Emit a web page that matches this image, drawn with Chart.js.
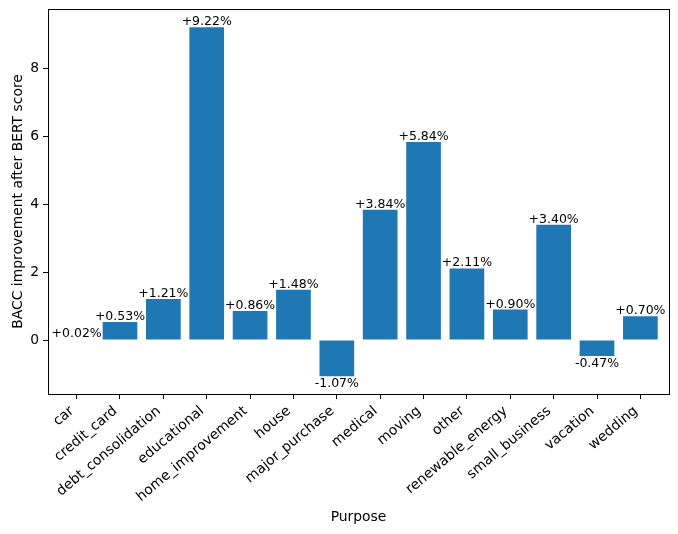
<!DOCTYPE html>
<html>
<head>
<meta charset="utf-8">
<script src="https://cdn.jsdelivr.net/npm/chart.js@4.4.1/dist/chart.umd.min.js"></script>
<style>
  html, body { margin: 0; padding: 0; background: #fff; }
  #wrap { width: 678px; height: 534px; }
</style>
</head>
<body>
<div id="wrap"><canvas id="chart" width="678" height="534"></canvas></div>
<script>
const purposes = ['car', 'credit_card', 'debt_consolidation', 'educational', 'home_improvement',
  'house', 'major_purchase', 'medical', 'moving', 'other', 'renewable_energy',
  'small_business', 'vacation', 'wedding'];
const improvement = [0.02, 0.53, 1.21, 9.22, 0.86, 1.48, -1.07, 3.84, 5.84, 2.11, 0.90, 3.40, -0.47, 0.70];
const yTicks = [0, 2, 4, 6, 8];

const FONT = 'DejaVu Sans';
const TICK_SIZE = 13.9;

// value labels above / below each bar
const barLabels = {
  id: 'barLabels',
  afterDatasetsDraw(chart) {
    const ctx = chart.ctx;
    const meta = chart.getDatasetMeta(0);
    ctx.save();
    ctx.font = '12.5px "' + FONT + '"';
    ctx.fillStyle = '#000';
    ctx.textAlign = 'center';
    meta.data.forEach((bar, i) => {
      const v = improvement[i];
      const txt = (v >= 0 ? '+' : '') + v.toFixed(2) + '%';
      ctx.textBaseline = v >= 0 ? 'bottom' : 'top';
      ctx.fillText(txt, bar.x, bar.y + 1);
    });
    ctx.restore();
  }
};

// rotated category labels, right aligned to the tick like matplotlib
const xLabels = {
  id: 'xLabels',
  afterDraw(chart) {
    const ctx = chart.ctx;
    const xs = chart.scales.x;
    const ang = 40 * Math.PI / 180;
    const asc = TICK_SIZE * 0.76, desc = TICK_SIZE * 0.24;
    const yTop = chart.chartArea.bottom + 5 + 4.9;
    ctx.save();
    ctx.font = TICK_SIZE + 'px "' + FONT + '"';
    ctx.fillStyle = '#000';
    ctx.textAlign = 'right';
    ctx.textBaseline = 'alphabetic';
    purposes.forEach((name, i) => {
      const x = xs.getPixelForValue(i);
      ctx.save();
      ctx.translate(x - desc * Math.sin(ang), yTop + asc * Math.cos(ang));
      ctx.rotate(-ang);
      ctx.fillText(name, 0, 0);
      ctx.restore();
    });
    ctx.restore();
  }
};

// axes frame like matplotlib spines
const frame = {
  id: 'frame',
  afterDraw(chart) {
    const a = chart.chartArea;
    const ctx = chart.ctx;
    ctx.save();
    ctx.strokeStyle = '#000';
    ctx.lineWidth = 1;
    ctx.strokeRect(Math.round(a.left) + 0.5, Math.round(a.top) + 0.5,
      Math.round(a.right - a.left), Math.round(a.bottom - a.top));
    ctx.restore();
  }
};

new Chart(document.getElementById('chart'), {
  type: 'bar',
  data: {
    datasets: [{
      data: improvement.map((v, i) => ({ x: i, y: v })),
      backgroundColor: '#1f77b4',
      borderWidth: 0,
      inflateAmount: 0,
      barPercentage: 0.8,
      categoryPercentage: 1.0
    }]
  },
  options: {
    responsive: false,
    animation: false,
    layout: { padding: { top: 9, right: 9, left: 0, bottom: 0 } },
    plugins: { legend: { display: false }, tooltip: { enabled: false } },
    scales: {
      x: {
        type: 'linear',
        min: -0.66,
        max: 13.66,
        offset: false,
        afterFit(s) { s.height = 140; s.paddingLeft = 0; s.paddingRight = 0; },
        afterBuildTicks(s) { s.ticks = purposes.map((_, i) => ({ value: i })); },
        ticks: {
          autoSkip: false,
          maxRotation: 0,
          color: 'rgba(0,0,0,0)',
          font: { family: FONT, size: 1 },
          callback: () => ''
        },
        grid: { offset: false, drawOnChartArea: false, drawTicks: true, tickLength: 5, color: '#000' },
        border: { display: false },
        title: {
          display: true,
          text: 'Purpose',
          color: '#000',
          font: { family: FONT, size: TICK_SIZE },
          padding: { top: 0, bottom: 8 }
        }
      },
      y: {
        min: -1.59,
        max: 9.76,
        afterFit(s) { s.width = 48; s.paddingTop = 0; s.paddingBottom = 0; },
        afterBuildTicks(s) { s.ticks = yTicks.map(v => ({ value: v })); },
        ticks: {
          color: '#000',
          padding: 4,
          font: { family: FONT, size: TICK_SIZE }
        },
        grid: { offset: false, drawOnChartArea: false, drawTicks: true, tickLength: 5, color: '#000' },
        border: { display: false },
        title: {
          display: true,
          text: 'BACC improvement after BERT score',
          color: '#000',
          font: { family: FONT, size: TICK_SIZE },
          padding: { top: 10, bottom: 0 }
        }
      }
    }
  },
  plugins: [barLabels, xLabels, frame]
});
</script>
</body>
</html>
